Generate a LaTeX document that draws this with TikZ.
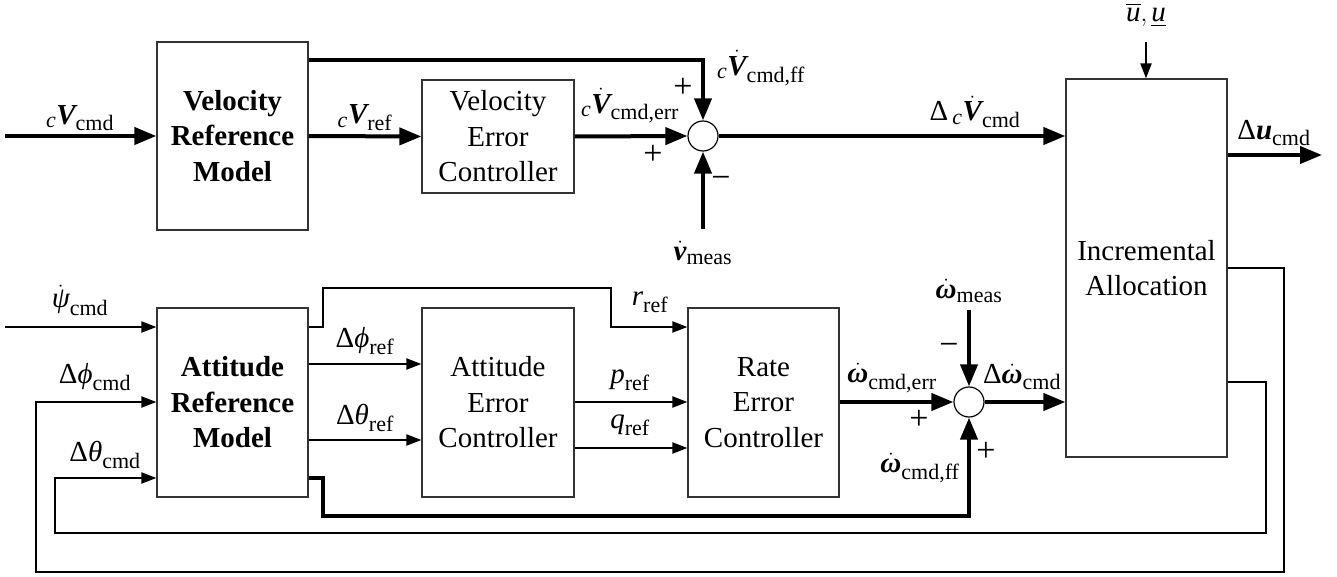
\documentclass[tikz,border=0pt]{standalone}
\usepackage{amsmath}
\usepackage{fontspec}
\setmainfont{Liberation Serif}
\usetikzlibrary{arrows.meta}
\newcommand{\bv}[1]{\text{\bfseries\itshape #1}}
\newcommand{\iv}[1]{\text{\itshape #1}}
\newcommand{\sbt}[1]{_{\text{\fontsize{22}{22}\selectfont #1}}}
\newcommand{\lc}{{}_{\text{\fontsize{22}{22}\selectfont\itshape c}}}
\tikzset{
  blk/.style={draw=black!80, line width=1.2pt, inner sep=0pt, align=center, font=\fontsize{29}{35.5}\selectfont},
  sumc/.style={draw, circle, line width=1.2pt, minimum size=30pt, inner sep=0pt},
  thk/.style={line width=4pt, -{Triangle[length=22pt,width=17pt]}},
  thn/.style={line width=2pt, -{Triangle[length=15pt,width=11pt]}},
  lbl/.style={inner sep=0pt, font=\fontsize{29}{35}\selectfont},
  sgn/.style={inner sep=0pt, font=\fontsize{34}{34}\selectfont},
}
\begin{document}
\begin{tikzpicture}[x=1pt,y=-1pt]
\useasboundingbox (0,0) rectangle (1337,577);
% blocks
\node[blk, minimum width=151pt, minimum height=188pt] (vrm) at (232.5,136) {\bfseries Velocity\\\bfseries Reference\\\bfseries Model};
\node[blk, minimum width=152pt, minimum height=113pt] (vec) at (498,136.5) {Velocity\\Error\\Controller};
\node[blk, minimum width=161pt, minimum height=378pt] (ia) at (1146.5,268) {Incremental\\Allocation};
\node[blk, minimum width=151pt, minimum height=189pt] (arm) at (232.5,402.5) {\bfseries Attitude\\\bfseries Reference\\\bfseries Model};
\node[blk, minimum width=152pt, minimum height=189pt] (aec) at (498,402.5) {Attitude\\Error\\Controller};
\node[blk, minimum width=151pt, minimum height=189pt] (rec) at (763.5,402.5) {Rate\\Error\\Controller};
\node[sumc] (s1) at (703,136) {};
\node[sumc] (s2) at (969,402) {};
% free ends
\coordinate (in1) at (5,136);
\coordinate (vm) at (703,229);
\coordinate (ub) at (1146,42);
\coordinate (du) at (1322,155);
\coordinate (in2) at (5,327);
\coordinate (wm) at (969,310);
% top connectors
\draw[thk] (in1) -- (vrm.west);
\draw[thk] (vrm.east) -- (vec.west);
\draw[thk] (vec.east) -- (s1.west);
\draw[thk] (vrm.east |- 0,60) -- (703,60) -- (s1.north);
\draw[thk] (vm) -- (s1.south);
\draw[thk] (s1.east) -- (s1.east -| ia.west);
\draw[thn] (ub) -- (ub |- ia.north);
\draw[thk] (ia.east |- 0,155) -- (du);
% bottom connectors
\draw[thn] (in2) -- (in2 -| arm.west);
\draw[thn] (arm.east |- 0,327) -- (323,327) -- (323,288) -- (611,288) -- (611,327) -- (rec.west |- 0,327);
\draw[thn] (arm.east |- 0,364) -- (aec.west |- 0,364);
\draw[thn] (arm.east |- 0,440) -- (aec.west |- 0,440);
\draw[thn] (aec.east |- 0,402) -- (rec.west |- 0,402);
\draw[thn] (aec.east |- 0,448) -- (rec.west |- 0,448);
\draw[thk] (rec.east |- s2.west) -- (s2.west);
\draw[thk] (arm.east |- 0,478) -- (323,478) -- (323,516) -- (969,516) -- (s2.south);
\draw[thk] (wm) -- (s2.north);
\draw[thk] (s2.east) -- (s2.east -| ia.west);
% feedback loops
\draw[thn] (ia.east |- 0,268) -- (1284,268) -- (1284,572) -- (36,572) -- (36,402) -- (arm.west |- 0,402);
\draw[thn] (ia.east |- 0,382) -- (1266,382) -- (1266,533) -- (55,533) -- (55,478) -- (arm.west |- 0,478);
% labels
\node[lbl] (l1) at (80,118) {$\lc\bv{V}\sbt{cmd}$};
\node[lbl] (l2) at (365,118) {$\lc\bv{V}\sbt{ref}$};
\node[lbl] (l3) at (630,106) {$\lc\dot{\bv{V}}\sbt{cmd,err}$};
\node[lbl] (l4) at (761,68) {$\lc\dot{\bv{V}}\sbt{cmd,ff}$};
\node[sgn] (p1) at (683,88) {+};
\node[sgn] (p2) at (653,155) {+};
\node[sgn] (m1) at (721,182) {−};
\node[lbl] (l5) at (703,253) {$\dot{\bv{v}}\sbt{meas}$};
\node[lbl] (l6) at (975,112) {$\text{Δ}\,\lc\dot{\bv{V}}\sbt{cmd}$};
\node[lbl] (l7) at (1146,15) {$\overline{\iv{u}}, \underline{\iv{u}}$};
\node[lbl] (l8) at (1274,133) {$\text{Δ}\bv{u}\sbt{cmd}$};
\node[lbl] (l9) at (80,300) {$\dot{\iv{ψ}}\sbt{cmd}$};
\node[lbl] (l10) at (95,377) {$\text{Δ}\iv{ϕ}\sbt{cmd}$};
\node[lbl] (l11) at (105,455) {$\text{Δ}\iv{θ}\sbt{cmd}$};
\node[lbl] (l12) at (365,341) {$\text{Δ}\iv{ϕ}\sbt{ref}$};
\node[lbl] (l13) at (365,418) {$\text{Δ}\iv{θ}\sbt{ref}$};
\node[lbl] (l14) at (650,302) {$\iv{r}\sbt{ref}$};
\node[lbl] (l15) at (630,380) {$\iv{p}\sbt{ref}$};
\node[lbl] (l16) at (630,425) {$\iv{q}\sbt{ref}$};
\node[lbl] (l17) at (892,378) {$\dot{\bv{ω}}\sbt{cmd,err}$};
\node[lbl] (l18) at (969,291) {$\dot{\bv{ω}}\sbt{meas}$};
\node[sgn] (m2) at (949,349) {−};
\node[sgn] (p3) at (919,420) {+};
\node[sgn] (p4) at (986,452) {+};
\node[lbl] (l19) at (1022,377) {$\text{Δ}\dot{\bv{ω}}\sbt{cmd}$};
\node[lbl] (l20) at (920,468) {$\dot{\bv{ω}}\sbt{cmd,ff}$};
\end{tikzpicture}
\end{document}
